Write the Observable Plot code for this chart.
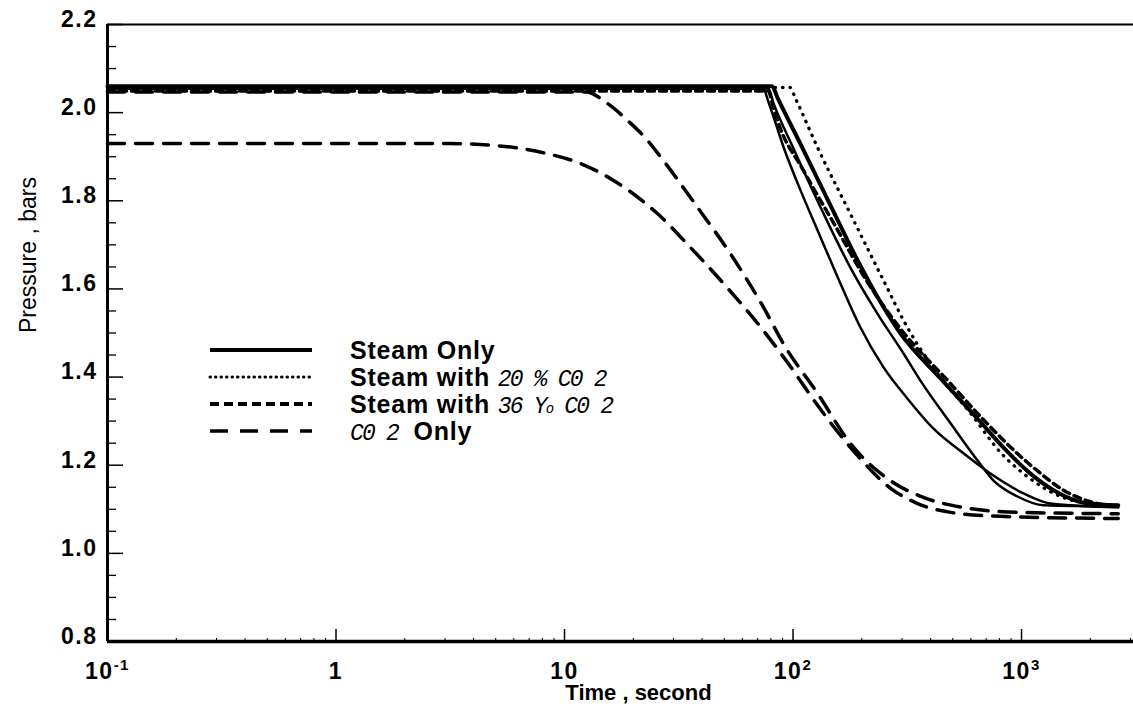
<!DOCTYPE html>
<html><head><meta charset="utf-8">
<script src="https://cdn.jsdelivr.net/npm/d3@7"></script>
<script src="https://cdn.jsdelivr.net/npm/@observablehq/plot@0.6"></script>
<style>
html,body{margin:0;padding:0;background:#fff;}
#wrap{position:relative;width:1133px;height:713px;}
#wrap svg.plotsvg{display:block;}
.lg{position:absolute;left:0;width:700px;height:28px;font-family:"Liberation Sans",Arial,sans-serif;font-weight:bold;font-size:25px;letter-spacing:0.8px;color:#000;}
.lg svg{position:absolute;left:208px;top:9px;}
.lg .txt{position:absolute;left:350px;top:0;height:28px;line-height:28px;white-space:nowrap;}
.it{font-family:"Liberation Mono",monospace;font-style:italic;font-weight:normal;font-size:23px;letter-spacing:-1.8px;}
.sm{font-size:14px;}
</style></head><body><div id="wrap"></div><script>
// ---- data (time in seconds, pressure in bars) ----
const steam1Time = [0.1, 74, 78.2, 91, 108, 128, 157, 197, 249, 317, 412, 557, 731, 1020, 1340, 2650];
const steam1P    = [2.055, 2.055, 2.023, 1.921, 1.823, 1.733, 1.626, 1.513, 1.422, 1.351, 1.283, 1.227, 1.181, 1.136, 1.113, 1.104];
const steam2Time = [0.1, 78, 82.2, 100, 136, 178, 234, 305, 361, 489, 641, 754, 960, 1248, 2650];
const steam2P    = [2.055, 2.055, 2.021, 1.921, 1.771, 1.649, 1.544, 1.453, 1.392, 1.295, 1.211, 1.165, 1.129, 1.109, 1.106];
const steam3Time = [0.1, 81, 85.5, 108, 146, 192, 242, 295, 442, 641, 834, 1094, 1438, 1868, 2650];
const steam3P    = [2.060, 2.060, 2.034, 1.928, 1.789, 1.664, 1.569, 1.499, 1.397, 1.306, 1.240, 1.181, 1.138, 1.115, 1.109];
const co2_20Time = [0.1, 97, 102.5, 128, 178, 249, 317, 429, 598, 809, 1062, 1482, 2005, 2650];
const co2_20P    = [2.057, 2.057, 2.032, 1.921, 1.771, 1.619, 1.512, 1.408, 1.318, 1.229, 1.174, 1.129, 1.113, 1.109];
const co2_36Time = [0.1, 78, 81.4, 85.5, 111, 150, 212, 295, 489, 682, 895, 1175, 1528, 2005, 2650];
const co2_36P    = [2.049, 2.049, 2.018, 1.982, 1.869, 1.751, 1.615, 1.510, 1.385, 1.303, 1.241, 1.187, 1.143, 1.117, 1.106];
const co2aTime   = [0.1, 12.4, 15.4, 18.9, 23.1, 27.1, 38.2, 53.2, 74.3, 90.9, 128, 178.5, 267, 372, 557, 960, 2650];
const co2aP      = [2.047, 2.047, 2.021, 1.982, 1.937, 1.891, 1.785, 1.680, 1.558, 1.475, 1.363, 1.249, 1.165, 1.127, 1.104, 1.093, 1.090];
const co2bTime   = [0.1, 1.6, 3.1, 6.0, 8.4, 11.7, 16.4, 25.5, 35.6, 49.7, 70, 94.6, 128, 178.5, 275, 351, 489, 809, 2650];
const co2bP      = [1.930, 1.930, 1.930, 1.921, 1.907, 1.885, 1.846, 1.771, 1.694, 1.612, 1.522, 1.433, 1.336, 1.240, 1.143, 1.113, 1.093, 1.084, 1.079];

const xMajor = [0.1, 1, 10, 100, 1000];
const xMinor = [0.2,0.3,0.4,0.5,0.6,0.7,0.8,0.9, 2,3,4,5,6,7,8,9, 20,30,40,50,60,70,80,90, 200,300,400,500,600,700,800,900, 2000,3000];
const yMajor = [0.8, 1.0, 1.2, 1.4, 1.6, 1.8, 2.0, 2.2];
const yMinor = [0.85,0.9,0.95,1.05,1.1,1.15,1.25,1.3,1.35,1.45,1.5,1.55,1.65,1.7,1.75,1.85,1.9,1.95,2.05,2.1,2.15];
const xDomain = [0.1, 3090];
const yDomain = [0.8, 2.2];

const series = (ts, ps) => ts.map((t, i) => ({t, p: ps[i]}));

const W = 1133, H = 713, ML = 107, MR = 0, MT = 24, MB = 72;
const innerW = W - ML - MR, innerH = H - MT - MB;

const lineOpts = {x: "t", y: "p", curve: "monotone-x", stroke: "black", strokeLinejoin: "round"};

const plot = Plot.plot({
  width: W, height: H,
  marginLeft: ML, marginRight: MR, marginTop: MT, marginBottom: MB,
  style: {background: "white", fontFamily: "'Liberation Sans', Arial, sans-serif", fontSize: "23px", fontWeight: "bold", overflow: "visible"},
  x: {type: "log", domain: xDomain, label: null},
  y: {domain: yDomain, label: null},
  marks: [
    Plot.line(series(co2bTime, co2bP), {...lineOpts, strokeWidth: 3.5, strokeDasharray: "17,11"}),
    Plot.line(series(co2aTime, co2aP), {...lineOpts, strokeWidth: 3.5, strokeDasharray: "17,11"}),
    Plot.line(series(co2_36Time, co2_36P), {...lineOpts, strokeWidth: 3.5, strokeDasharray: "7,5"}),
    Plot.line(series(co2_20Time, co2_20P), {...lineOpts, strokeWidth: 3.3, strokeDasharray: "0.5,7", strokeLinecap: "round"}),
    Plot.line(series(steam1Time, steam1P), {...lineOpts, strokeWidth: 2.5}),
    Plot.line(series(steam2Time, steam2P), {...lineOpts, strokeWidth: 2.5}),
    Plot.line(series(steam3Time, steam3P), {...lineOpts, strokeWidth: 4}),
    // frame lines
    Plot.ruleX([xDomain[0]], {strokeWidth: 3}),
    Plot.ruleY([yDomain[0]], {strokeWidth: 3.5}),
    Plot.ruleY([yDomain[1]], {strokeWidth: 2}),
    // inward ticks
    Plot.tickX(xMajor, {x: d => d, insetTop: innerH - 12, strokeWidth: 1.5}),
    Plot.tickX(xMinor, {x: d => d, insetTop: innerH - 3, strokeWidth: 1}),
    Plot.tickY(yMajor, {y: d => d, insetRight: innerW - 16, strokeWidth: 1.5}),
    Plot.tickY(yMinor, {y: d => d, insetRight: innerW - 9, strokeWidth: 1.3}),
    // tick labels
    Plot.axisX(xMajor, {tickSize: 0, tickPadding: 21, label: null, fontSize: 23,
      tickFormat: d => d === 1 ? "1" : d === 10 ? "10" : `10^${Math.round(Math.log10(d))}`}),
    Plot.axisY(yMajor, {tickSize: 0, tickPadding: 10, label: null, fontSize: 23, dy: -5,
      tickFormat: d3.format(".1f")}),
    // axis titles
    Plot.text(["Pressure , bars"], {frameAnchor: "left", dx: -79, rotate: -90, fontSize: 23, fontWeight: "normal"}),
    Plot.text(["Time , second"], {frameAnchor: "bottom", dx: 18, dy: 58, fontSize: 22, fontWeight: "bold"})
  ]
});
plot.classList.add("plotsvg");

// tick label styling and superscripts for powers of ten
plot.querySelectorAll("g[aria-label$='tick label'] text").forEach(t => {
  t.style.letterSpacing = "1.5px";
});
plot.querySelectorAll("text").forEach(t => {
  const m = t.textContent.match(/^10\^(-?\d+)$/);
  if (m) {
    t.textContent = "10";
    const ts = document.createElementNS("http://www.w3.org/2000/svg", "tspan");
    ts.setAttribute("dy", "-9");
    ts.setAttribute("font-size", "15");
    ts.textContent = m[1];
    t.appendChild(ts);
  }
});

const wrap = document.getElementById("wrap");
wrap.appendChild(plot);

// legend (inside the plot area)
const legendItems = [
  {top: 336, dash: null, width: 4, html: "Steam Only"},
  {top: 363, dash: "0.5,5", width: 3, cap: "round", html: "Steam with&nbsp;<span class='it'>20 % C0 2</span>"},
  {top: 390, dash: "9,5", width: 4, html: "Steam with&nbsp;<span class='it'>36 Y<span class='sm'>o</span> C0 2</span>"},
  {top: 417, dash: "18,12", width: 3.5, html: "<span class='it'>C0 2</span>&nbsp;&nbsp;Only"}
];
legendItems.forEach(it => {
  const d = document.createElement("div");
  d.className = "lg";
  d.style.top = it.top + "px";
  d.innerHTML = `<svg width="106" height="10"><line x1="2" y1="5" x2="104" y2="5" stroke="black" stroke-width="${it.width}" ${it.dash ? `stroke-dasharray="${it.dash}"` : ""} ${it.cap ? `stroke-linecap="${it.cap}"` : ""}/></svg><span class="txt">${it.html}</span>`;
  wrap.appendChild(d);
});
</script></body></html>
